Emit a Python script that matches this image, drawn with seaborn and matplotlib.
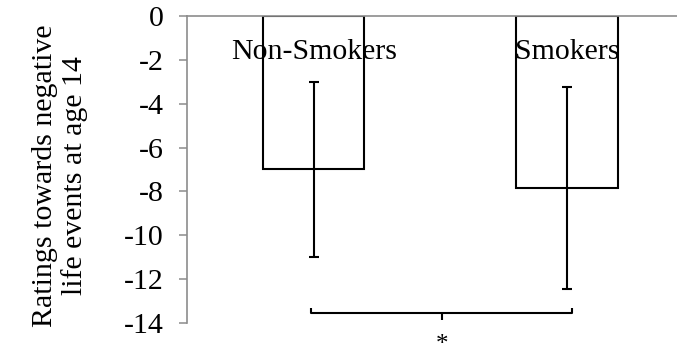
import matplotlib
matplotlib.use("Agg")
import matplotlib.pyplot as plt
import seaborn as sns
import pandas as pd

# Group means and standard deviations
groups = ["Non-Smokers", "Smokers"]
means = [-7.0, -7.85]
sds = [4.0, 4.6]
y_ticks = [0, -2, -4, -6, -8, -10, -12, -14]
y_label = "Ratings towards negative\nlife events at age 14"
sig_mark = "*"

sns.set_theme(style="white")
plt.rcParams["font.family"] = ["Liberation Serif", "DejaVu Serif"]
plt.rcParams["axes.unicode_minus"] = False
plt.rcParams["text.color"] = "black"
plt.rcParams["axes.labelcolor"] = "black"
plt.rcParams["ytick.color"] = "black"
plt.rcParams["mathtext.fontset"] = "custom"
plt.rcParams["mathtext.rm"] = "Liberation Serif"
plt.rcParams["mathtext.it"] = "Liberation Serif:italic"

FS = 21.5

df = pd.DataFrame({"group": groups, "mean": means})

fig = plt.figure(figsize=(6.77, 3.54), dpi=100)
ax = fig.add_axes([0.2762, 0.0876, 0.7488, 0.8672])

sns.barplot(data=df, x="group", y="mean", order=groups, errorbar=None,
            width=0.4, color="white", edgecolor="black", linewidth=1.5, ax=ax)

centers = [p.get_x() + p.get_width() / 2 for p in ax.patches]
ax.errorbar(centers, means, yerr=sds, fmt="none", ecolor="black",
            elinewidth=1.5, capsize=3.5, capthick=1.5, zorder=3)

for cx, name in zip(centers, groups):
    ax.text(cx, -1.65, name, ha="center", va="center", fontsize=FS, color="black")

ax.set_ylim(-14, 0)
ax.set_xlim(-0.5, 1.5)
ax.set_yticks(y_ticks)
ax.set_yticklabels([str(t) for t in y_ticks], fontsize=FS)
ax.set_xticks([])
ax.set_xlabel("")
ax.set_ylabel("")

# Two-line axis title, placed at a fixed spot left of the tick labels
fig.text(0.088, 0.503, y_label, rotation=90, ha="center", va="center",
         fontsize=FS, linespacing=1.15, multialignment="center", color="black")

for side in ["right", "bottom"]:
    ax.spines[side].set_visible(False)
for side in ["left", "top"]:
    ax.spines[side].set_color("#8c8c8c")
    ax.spines[side].set_linewidth(1.2)
ax.tick_params(axis="y", left=True, length=5.8, width=1.1, color="#8c8c8c",
               labelcolor="black", direction="out", pad=11)

# Significance bracket between the two groups
x0, x1 = centers[0] - 0.01, centers[1] + 0.02
xm = (x0 + x1) / 2
bracket_style = dict(color="black", lw=1.5, clip_on=False, solid_capstyle="butt",
                     solid_joinstyle="round")
ax.plot([x0, x0, x1, x1], [-13.32, -13.54, -13.54, -13.32], **bracket_style)
ax.plot([xm, xm], [-13.54, -13.86], **bracket_style)
ax.text(xm, -14.91, "$" + sig_mark + "$", ha="center", va="center", fontsize=18,
        color="black", clip_on=False)

fig.savefig("out.png", dpi=100)
